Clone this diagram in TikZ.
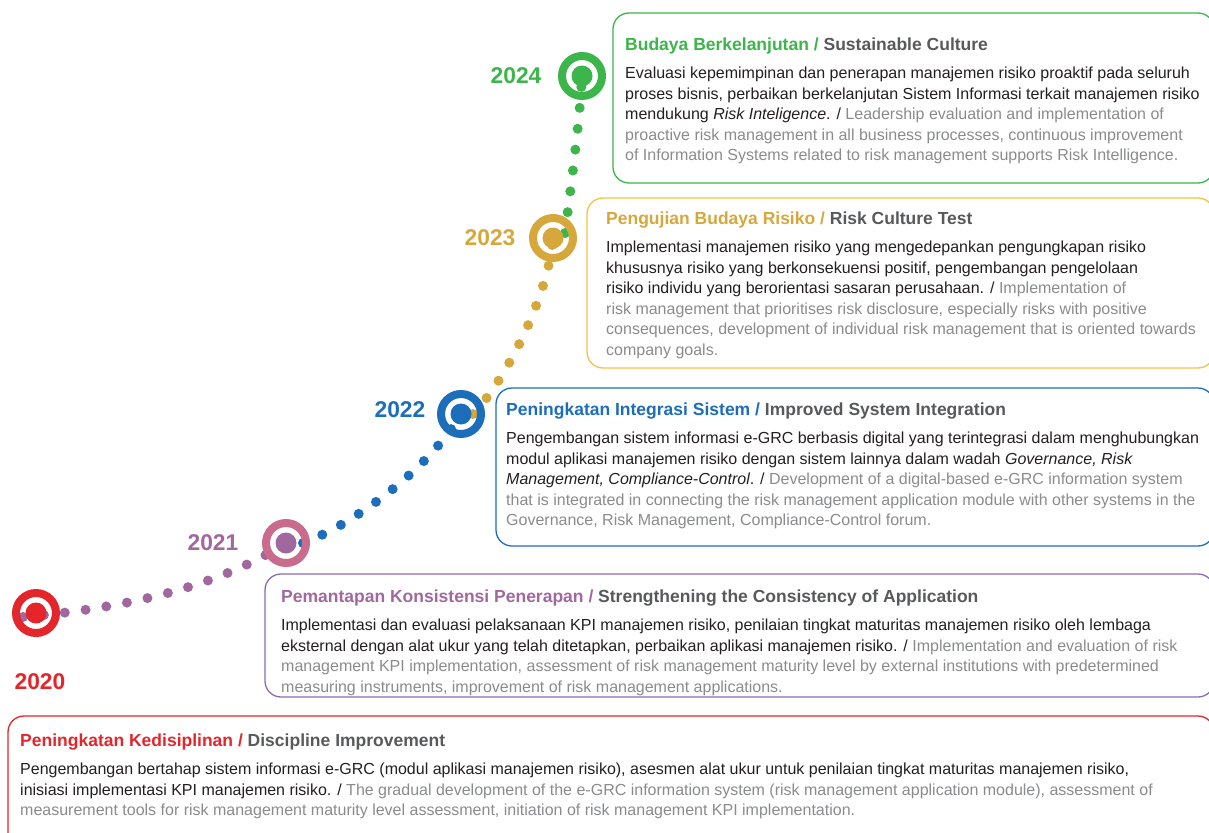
\documentclass[tikz,border=0pt]{standalone}
\usepackage{fontspec}
\setmainfont{Liberation Sans}
\usetikzlibrary{backgrounds}
\definecolor{grgreen}{HTML}{3CB54A}
\definecolor{grgold}{HTML}{D6A83C}
\definecolor{grgoldline}{HTML}{F4C243}
\definecolor{grblue}{HTML}{1C6DBA}
\definecolor{grpurple}{HTML}{A0689F}
\definecolor{grpurpleline}{HTML}{8C6CAE}
\definecolor{grpink}{HTML}{C96B8D}
\definecolor{grred}{HTML}{E4252C}
\definecolor{txtdark}{HTML}{231F20}
\definecolor{txtgrey}{HTML}{8A8B8D}
\definecolor{titlegrey}{HTML}{58595B}
\newcommand\engl[1]{{\color{txtgrey}#1}}
\newcommand\cardtitle[3]{{\fontsize{17.5}{20}\selectfont\bfseries\color{#1}#2 / \color{titlegrey}#3}}
\tikzset{
  ring/.style={circle, draw=#1, line width=8pt, minimum size=40pt, inner sep=0pt},
  core/.style={path picture={\fill[#1] (path picture bounding box.center) circle (10.5);}},
  year/.style={font=\fontsize{22.8}{26}\selectfont\bfseries, text=#1, inner sep=0pt},
  frame/.style={draw=#1, line width=1.3pt, rounded corners=16pt},
  card/.style={anchor=north west, inner sep=0pt, align=left, text=txtdark,
    font=\fontsize{16}{20.5}\selectfont},
  dots/.style={draw=#1, line width=10pt, line cap=round, dash pattern=on 0pt off 21pt},
}
\begin{document}
\begin{tikzpicture}[x=1pt, y=-1pt]
  \clip (0,0) rectangle (1209,832);
  \useasboundingbox (0,0) rectangle (1209,832);

  % frames
  \draw[frame=grgreen] (613,13) rectangle (1214,183);
  \draw[frame=grgoldline] (587,198) rectangle (1214,368);
  \draw[frame=grblue] (496,388) rectangle (1214,546);
  \draw[frame=grpurpleline] (265,574) rectangle (1214,697);
  \draw[frame=grred] (8,716) rectangle (1214,860);

  % markers
  \node[ring=grred, core=grred] (m20) at (36,613) {};
  \node[ring=grpink, core=grpurple] (m21) at (286,543) {};
  \node[ring=grblue, core=grblue] (m22) at (461,414) {};
  \node[ring=grgold, core=grgold] (m23) at (553,238) {};
  \node[ring=grgreen, core=grgreen] (m24) at (582,76) {};

  % years
  \node[year=grred] (y20) at (40,682) {2020};
  \node[year=grpurple] (y21) at (213,543) {2021};
  \node[year=grblue] (y22) at (400,410) {2022};
  \node[year=grgold] (y23) at (490,238) {2023};
  \node[year=grgreen] (y24) at (516,76) {2024};

  % dotted connectors
  \begin{scope}[on background layer]
    \draw[dots=grpurple] ([shift={(-13,4)}]m20.center) .. controls (140,607) and (225,582) .. (m21.center);
    \draw[dots=grblue] ([xshift=17pt]m21.center) .. controls (345,528) and (425,475) .. (m22.center);
    \draw[dots=grgold] ([xshift=12pt]m22.center) .. controls (502,385) and (548,300) .. (m23.center);
    \draw[dots=grgreen] ([shift={(12,-5)}]m23.center) .. controls (569,200) and (579,130) .. (m24.center);
  \end{scope}

  % texts
  \node[card] (t24) at (625,38) {\cardtitle{grgreen}{Budaya Berkelanjutan}{Sustainable Culture}\\[7.5pt]
    Evaluasi kepemimpinan dan penerapan manajemen risiko proaktif pada seluruh\\
    proses bisnis, perbaikan berkelanjutan Sistem Informasi terkait manajemen risiko\\
    mendukung \textit{Risk Inteligence}. / \engl{Leadership evaluation and implementation of}\\
    \engl{proactive risk management in all business processes, continuous improvement}\\
    \engl{of Information Systems related to risk management supports Risk Intelligence.}};

  \node[card] (t23) at (606,212) {\cardtitle{grgold}{Pengujian Budaya Risiko}{Risk Culture Test}\\[7.5pt]
    Implementasi manajemen risiko yang mengedepankan pengungkapan risiko\\
    khususnya risiko yang berkonsekuensi positif, pengembangan pengelolaan\\
    risiko individu yang berorientasi sasaran perusahaan. / \engl{Implementation of}\\
    \engl{risk management that prioritises risk disclosure, especially risks with positive}\\
    \engl{consequences, development of individual risk management that is oriented towards}\\
    \engl{company goals.}};

  \node[card] (t22) at (506,403) {\cardtitle{grblue}{Peningkatan Integrasi Sistem}{Improved System Integration}\\[7.5pt]
    Pengembangan sistem informasi e-GRC berbasis digital yang terintegrasi dalam menghubungkan\\
    modul aplikasi manajemen risiko dengan sistem lainnya dalam wadah \textit{Governance, Risk}\\
    \textit{Management, Compliance-Control}. / \engl{Development of a digital-based e-GRC information system}\\
    \engl{that is integrated in connecting the risk management application module with other systems in the}\\
    \engl{Governance, Risk Management, Compliance-Control forum.}};

  \node[card] (t21) at (281,590) {\cardtitle{grpurple}{Pemantapan Konsistensi Penerapan}{Strengthening the Consistency of Application}\\[7.5pt]
    Implementasi dan evaluasi pelaksanaan KPI manajemen risiko, penilaian tingkat maturitas manajemen risiko oleh lembaga\\
    eksternal dengan alat ukur yang telah ditetapkan, perbaikan aplikasi manajemen risiko. / \engl{Implementation and evaluation of risk}\\
    \engl{management KPI implementation, assessment of risk management maturity level by external institutions with predetermined}\\
    \engl{measuring instruments, improvement of risk management applications.}};

  \node[card] (t20) at (20,734) {\cardtitle{grred}{Peningkatan Kedisiplinan}{Discipline Improvement}\\[7.5pt]
    Pengembangan bertahap sistem informasi e-GRC (modul aplikasi manajemen risiko), asesmen alat ukur untuk penilaian tingkat maturitas manajemen risiko,\\
    inisiasi implementasi KPI manajemen risiko. / \engl{The gradual development of the e-GRC information system (risk management application module), assessment of}\\
    \engl{measurement tools for risk management maturity level assessment, initiation of risk management KPI implementation.}};
\end{tikzpicture}
\end{document}
